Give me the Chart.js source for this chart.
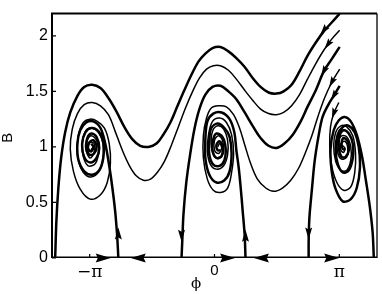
<!DOCTYPE html>
<html>
<head>
<meta charset="utf-8">
<script src="https://cdn.jsdelivr.net/npm/chart.js@4/dist/chart.umd.min.js"></script>
<style>
  html, body { margin: 0; padding: 0; background: #fff; }
  #wrap { width: 382px; height: 294px; }
</style>
</head>
<body>
<div id="wrap"><canvas id="phase" width="382" height="294"></canvas></div>
<script>
// axes
const phiRange = [-4.09, 4.09];
const bRange = [0, 2.2];
const phiTicks = [-Math.PI, 0, Math.PI];
const phiTickLabels = ['\u2212\u03c0', '0', '\u03c0'];
const bTicks = [0, 0.5, 1, 1.5, 2];

// trajectories, [phi, B]
const outerWave = [[3.15,2.20],[2.95,2.12],[2.75,2.04],[2.55,1.94],[2.34,1.82],[2.14,1.68],[1.94,1.56],[1.74,1.50],[1.56,1.48],[1.36,1.49],[1.16,1.54],[0.96,1.62],[0.76,1.72],[0.55,1.80],[0.35,1.86],[0.15,1.90],[-0.05,1.89],[-0.23,1.84],[-0.40,1.77],[-0.58,1.65],[-0.76,1.51],[-0.93,1.37],[-1.11,1.22],[-1.29,1.11],[-1.46,1.03],[-1.66,1.00],[-1.87,1.01],[-2.07,1.07],[-2.27,1.18],[-2.47,1.32],[-2.67,1.44],[-2.87,1.53],[-3.08,1.56],[-3.28,1.54],[-3.45,1.46],[-3.63,1.31],[-3.76,1.13],[-3.86,0.90],[-3.93,0.63],[-3.98,0.33],[-4.01,0]];
const wave2 = [[3.15,2.05],[2.95,1.97],[2.75,1.87],[2.55,1.75],[2.34,1.61],[2.14,1.47],[1.94,1.37],[1.74,1.31],[1.56,1.29],[1.36,1.30],[1.16,1.34],[0.96,1.42],[0.76,1.51],[0.55,1.61],[0.35,1.69],[0.15,1.73],[-0.03,1.73],[-0.20,1.70],[-0.38,1.62],[-0.55,1.50],[-0.73,1.35],[-0.91,1.18],[-1.08,1.02],[-1.26,0.87],[-1.44,0.77],[-1.61,0.71],[-1.79,0.70],[-1.97,0.74],[-2.14,0.83],[-2.32,0.97],[-2.50,1.14],[-2.67,1.29],[-2.87,1.37],[-3.08,1.40],[-3.28,1.38],[-3.45,1.30],[-3.58,1.16],[-3.63,0.98],[-3.55,0.78],[-3.38,0.62],[-3.13,0.53],[-2.87,0.57],[-2.70,0.68],[-2.62,0.85],[-2.65,1.03],[-2.77,1.17],[-2.95,1.23],[-3.13,1.25],[-3.30,1.22],[-3.43,1.10],[-3.45,0.94],[-3.35,0.80],[-3.15,0.73],[-2.95,0.76],[-2.82,0.87],[-2.80,1.02],[-2.90,1.12],[-3.08,1.17],[-3.23,1.15],[-3.33,1.04],[-3.30,0.91],[-3.18,0.83],[-3.00,0.85],[-2.92,0.96],[-2.97,1.06],[-3.10,1.10],[-3.20,1.06],[-3.23,0.97],[-3.13,0.90],[-3.03,0.95],[-3.03,1.03],[-3.13,1.04],[-3.18,1.00],[-3.13,0.96],[-3.08,0.99]];
const wave3 = [[3.15,1.90],[2.95,1.79],[2.75,1.68],[2.55,1.51],[2.34,1.36],[2.17,1.23],[1.97,1.11],[1.76,1.03],[1.56,0.99],[1.36,1.01],[1.16,1.08],[0.96,1.19],[0.76,1.31],[0.55,1.43],[0.35,1.50],[0.15,1.55],[-0.05,1.54],[-0.23,1.47],[-0.38,1.34],[-0.50,1.17],[-0.61,0.94],[-0.71,0.68],[-0.78,0.40],[-0.81,0.16],[-0.83,0]];
const wave4 = [[3.15,1.70],[2.95,1.58],[2.77,1.44],[2.60,1.27],[2.45,1.10],[2.29,0.95],[2.12,0.81],[1.92,0.70],[1.71,0.63],[1.49,0.60],[1.29,0.63],[1.08,0.71],[0.91,0.85],[0.76,1.02],[0.63,1.17],[0.48,1.29],[0.30,1.36],[0.10,1.37],[-0.08,1.35],[-0.20,1.26],[-0.28,1.10],[-0.28,0.90],[-0.18,0.71],[-0.03,0.61],[0.15,0.59],[0.33,0.63],[0.43,0.77],[0.48,0.94],[0.43,1.11],[0.30,1.22],[0.13,1.26],[-0.05,1.23],[-0.15,1.11],[-0.18,0.96],[-0.10,0.84],[0.05,0.80],[0.23,0.83],[0.33,0.93],[0.33,1.06],[0.23,1.16],[0.08,1.19],[-0.05,1.14],[-0.08,1.01],[0,0.91],[0.13,0.90],[0.23,0.96],[0.20,1.06],[0.10,1.10],[0,1.06],[0,0.97],[0.10,0.94],[0.18,0.99],[0.13,1.03],[0.08,1.00]];
const wave5 = [[3.15,1.55],[3.00,1.46],[2.85,1.37],[2.72,1.27],[2.62,1.10],[2.52,0.87],[2.45,0.61],[2.39,0.37],[2.37,0.16],[2.37,0]];
const wave6 = [[3.13,1.40],[3.00,1.30],[2.92,1.18],[2.90,1.01],[2.95,0.83],[3.08,0.68],[3.25,0.61],[3.43,0.64],[3.53,0.77],[3.55,0.94],[3.48,1.10],[3.33,1.18],[3.18,1.19],[3.05,1.13],[3.00,1.01],[3.05,0.87],[3.18,0.79],[3.33,0.79],[3.43,0.88],[3.43,1.00],[3.33,1.09],[3.20,1.10],[3.10,1.05],[3.10,0.95],[3.20,0.89],[3.33,0.91],[3.35,1.00],[3.28,1.05],[3.18,1.03],[3.18,0.97],[3.25,0.95],[3.28,0.99],[3.23,1.01]];
const sepLeft = [[-2.42,0],[-2.45,0.20],[-2.50,0.42],[-2.57,0.63],[-2.65,0.83],[-2.75,1.03],[-2.87,1.17],[-3.05,1.23],[-3.23,1.22],[-3.38,1.15],[-3.45,1.03],[-3.43,0.89],[-3.28,0.78],[-3.08,0.75],[-2.90,0.79],[-2.80,0.90],[-2.80,1.04],[-2.92,1.14],[-3.10,1.17],[-3.25,1.13],[-3.33,1.03],[-3.28,0.91],[-3.13,0.86],[-2.97,0.90],[-2.90,0.99],[-2.97,1.09],[-3.10,1.12],[-3.20,1.08],[-3.23,0.99],[-3.15,0.93],[-3.03,0.94],[-2.97,1.01],[-3.05,1.06],[-3.15,1.04],[-3.18,0.98],[-3.10,0.96],[-3.05,1.00],[-3.10,1.03]];
const sepMid = [[0.78,0],[0.76,0.20],[0.71,0.42],[0.66,0.63],[0.61,0.81],[0.55,0.97],[0.50,1.13],[0.38,1.25],[0.18,1.31],[-0.03,1.30],[-0.18,1.23],[-0.23,1.07],[-0.23,0.90],[-0.13,0.75],[0.05,0.68],[0.25,0.70],[0.38,0.78],[0.43,0.94],[0.38,1.09],[0.25,1.17],[0.08,1.21],[-0.08,1.17],[-0.13,1.06],[-0.13,0.93],[-0.03,0.84],[0.13,0.83],[0.25,0.88],[0.28,0.99],[0.20,1.09],[0.05,1.12],[-0.03,1.07],[-0.05,0.97],[0.05,0.90],[0.18,0.92],[0.20,1.00],[0.13,1.05],[0.05,1.02],[0.08,0.97],[0.15,0.97]];
const sepRight = [[4.01,0],[3.98,0.23],[3.91,0.46],[3.81,0.70],[3.71,0.92],[3.58,1.11],[3.43,1.23],[3.28,1.27],[3.13,1.24],[3.00,1.15],[2.92,0.98],[2.95,0.78],[3.05,0.62],[3.23,0.51],[3.43,0.53],[3.58,0.63],[3.66,0.81],[3.63,1.00],[3.53,1.13],[3.38,1.19],[3.23,1.18],[3.10,1.11],[3.05,0.98],[3.10,0.85],[3.23,0.77],[3.38,0.79],[3.48,0.90],[3.48,1.03],[3.38,1.12],[3.25,1.15],[3.15,1.10],[3.13,0.99],[3.20,0.91],[3.30,0.91],[3.38,0.97],[3.35,1.05],[3.25,1.08],[3.20,1.03],[3.23,0.98],[3.30,0.98]];
const axisFlow = [[-4.09,0],[4.09,0]];

// arrowheads: [phi, B, dphi, dB] (direction of flow)
const axisArrows = [[-2.80,0,1,0],[-1.92,0,-1,0],[0.33,0,1,0],[1.18,0,-1,0],[2.95,0,1,0]];
const riseArrows = [[-2.42,0.22,0,1],[-0.83,0.20,0,-1],[0.78,0.20,0,1],[2.37,0.22,0,-1]];
const curveArrows = [[2.75,2.05,-0.40,-0.18],[2.85,1.92,-0.20,-0.10],[2.75,1.68,-0.40,-0.28],[2.95,1.58,-0.38,-0.26],[3.00,1.46,-0.30,-0.18],[3.00,1.30,-0.21,-0.22]];

const ink = '#000';
const thick = 2.5, thin = 1.5;

function path(points, width) {
  return {
    data: points.map(p => ({ x: p[0], y: p[1] })),
    showLine: true,
    borderColor: ink,
    borderWidth: width,
    pointRadius: 0,
    pointHoverRadius: 0,
    tension: 0.35,
    fill: false
  };
}

const arrowPlugin = {
  id: 'arrows',
  afterDatasetsDraw(chart) {
    const { ctx, scales: { x, y } } = chart;
    const draw = (list, len, half) => {
      list.forEach(a => {
        const px = x.getPixelForValue(a[0]), py = y.getPixelForValue(a[1]);
        const qx = x.getPixelForValue(a[0] + a[2]), qy = y.getPixelForValue(a[1] + a[3]);
        const ang = Math.atan2(qy - py, qx - px);
        ctx.save();
        ctx.translate(px, py);
        ctx.rotate(ang);
        ctx.beginPath();
        ctx.moveTo(len / 2, 0);
        ctx.lineTo(-len / 2, -half);
        ctx.lineTo(-len / 2 + 2, 0);
        ctx.lineTo(-len / 2, half);
        ctx.closePath();
        ctx.fillStyle = ink;
        ctx.fill();
        ctx.restore();
      });
    };
    draw(axisArrows, 15, 4.5);
    draw(riseArrows, 12, 3.5);
    draw(curveArrows, 11, 3.2);
  }
};

const framePlugin = {
  id: 'frame',
  afterDraw(chart) {
    const { ctx, chartArea: a, scales: { x, y } } = chart;
    ctx.save();
    ctx.strokeStyle = ink;
    ctx.lineWidth = 2;
    ctx.beginPath();
    ctx.moveTo(a.left, a.bottom);
    ctx.lineTo(a.left, a.top);
    ctx.lineTo(a.right, a.top);
    ctx.stroke();
    ctx.lineWidth = 1.3;
    ctx.beginPath();
    ctx.moveTo(a.right, a.top);
    ctx.lineTo(a.right, a.bottom);
    ctx.stroke();
    ctx.lineWidth = 1.2;
    ctx.beginPath();
    bTicks.forEach(v => {
      const py = y.getPixelForValue(v);
      ctx.moveTo(a.left, py);
      ctx.lineTo(a.left + 4, py);
    });
    phiTicks.forEach(v => {
      const px = x.getPixelForValue(v);
      ctx.moveTo(px, a.bottom);
      ctx.lineTo(px, a.bottom - 4);
    });
    ctx.stroke();

    ctx.fillStyle = ink;
    ctx.textAlign = 'center';
    ctx.textBaseline = 'middle';
    ctx.font = '15px "DejaVu Serif"';
    ctx.fillText('\u03d5', a.left + 144, 284);
    ctx.translate(8, (a.top + a.bottom) / 2 + 2);
    ctx.rotate(-Math.PI / 2);
    ctx.font = '15px "Liberation Sans"';
    ctx.fillText('B', 0, 0);
    ctx.restore();
  }
};

new Chart(document.getElementById('phase'), {
  type: 'scatter',
  data: {
    datasets: [
      path(axisFlow, 3),
      path(outerWave, thick),
      path(wave2, thin),
      path(wave3, thick),
      path(wave4, thin),
      path(wave5, thick),
      path(wave6, thin),
      path(sepLeft, thick),
      path(sepMid, thick),
      path(sepRight, thick)
    ]
  },
  options: {
    responsive: false,
    animation: false,
    events: [],
    layout: { padding: { top: 5, right: 5, left: 0, bottom: 0 } },
    elements: { line: { capBezierPoints: false } },
    plugins: { legend: { display: false }, tooltip: { enabled: false } },
    scales: {
      x: {
        type: 'linear',
        min: phiRange[0],
        max: phiRange[1],
        afterBuildTicks: s => { s.ticks = phiTicks.map(v => ({ value: v })); },
        afterFit: s => { s.height = 36; },
        grid: { display: false, drawTicks: false },
        border: { display: false },
        ticks: {
          padding: 4,
          color: ink,
          maxRotation: 0,
          font: c => (c.tick && c.tick.value !== 0)
            ? { family: 'DejaVu Serif', size: 17 }
            : { family: 'Liberation Sans', size: 15 },
          callback: (v, i) => phiTickLabels[i]
        }
      },
      y: {
        type: 'linear',
        min: bRange[0],
        max: bRange[1],
        afterBuildTicks: s => { s.ticks = bTicks.map(v => ({ value: v })); },
        afterFit: s => { s.width = 52; },
        grid: { display: false, drawTicks: false },
        border: { display: false },
        ticks: {
          padding: 4,
          color: ink,
          font: { family: 'Liberation Sans', size: 16 },
          callback: v => String(v)
        }
      }
    }
  },
  plugins: [arrowPlugin, framePlugin]
});
</script>
</body>
</html>
